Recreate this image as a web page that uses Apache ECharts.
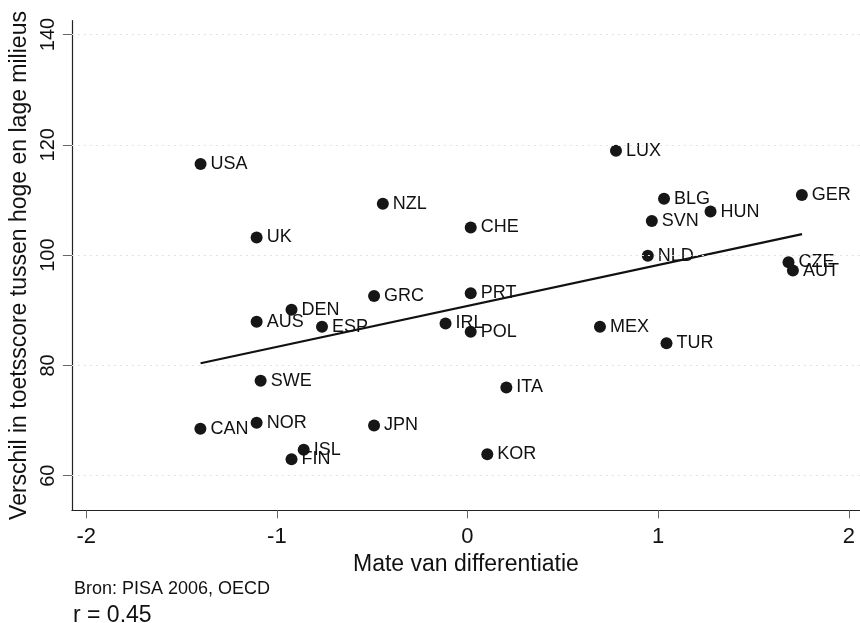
<!DOCTYPE html>
<html>
<head>
<meta charset="utf-8">
<script src="https://cdn.jsdelivr.net/npm/echarts@6/dist/echarts.min.js"></script>
<style>
html,body{margin:0;padding:0;background:#fff;}
#chart{width:860px;height:623px;}
</style>
</head>
<body>
<div id="chart"></div>
<script>
// Data
const countries = ['USA','NZL','UK','GRC','DEN','AUS','ESP','SWE','CAN','NOR','JPN','ISL','FIN',
  'LUX','BLG','GER','HUN','SVN','CHE','NLD','CZE','AUT','PRT','IRL','POL','MEX','TUR','ITA','KOR'];
const differentiation = [-1.40,-0.444,-1.106,-0.490,-0.923,-1.106,-0.763,-1.085,-1.401,-1.106,-0.490,-0.859,-0.923,
  0.779,1.031,1.754,1.275,0.967,0.017,0.946,1.684,1.707,0.017,-0.115,0.017,0.695,1.044,0.204,0.104];
const scoreGap = [116.5,109.3,103.2,92.6,90.1,87.9,87.0,77.2,68.5,69.6,69.1,64.7,63.0,
  118.9,110.2,110.9,107.9,106.2,105.0,99.9,98.7,97.2,93.1,87.6,86.1,87.0,84.0,76.0,63.9];
const fitX = [-1.40, 1.755];
const fitY = [80.4, 103.8];
const xTicks = [-2, -1, 0, 1, 2];
const yTicks = [60, 80, 100, 120, 140];
const xTitle = 'Mate van differentiatie';
const yTitle = 'Verschil in toetsscore tussen hoge en lage milieus';
const sourceNote = 'Bron: PISA 2006, OECD';
const corrNote = 'r = 0.45';

const FONT = '"Liberation Sans", Arial, Helvetica, sans-serif';
const INK = '#111111';

const pointData = countries.map((c, i) => ({ name: c, value: [differentiation[i], scoreGap[i]] }));
const fitData = fitX.map((x, i) => [x, fitY[i]]);

const chart = echarts.init(document.getElementById('chart'), null, { renderer: 'canvas' });
chart.setOption({
  animation: false,
  backgroundColor: '#ffffff',
  grid: { left: 69, right: 0, top: 20.7, bottom: 112.7, containLabel: false },
  xAxis: {
    type: 'value',
    min: -2.075, max: 2.059,
    name: xTitle,
    nameLocation: 'middle',
    nameGap: 37,
    nameTextStyle: { fontFamily: FONT, fontSize: 23, color: INK },
    axisLine: { show: true, onZero: false, lineStyle: { color: '#222', width: 1.2 } },
    axisTick: { show: true, inside: false, length: 8, customValues: xTicks, lineStyle: { color: '#666', width: 1 } },
    axisLabel: { show: true, customValues: xTicks, margin: 16, fontFamily: FONT, fontSize: 22, color: INK },
    splitLine: { show: false }
  },
  yAxis: {
    type: 'value',
    min: 53.73, max: 142.5,
    name: yTitle,
    nameLocation: 'middle',
    nameGap: 36,
    nameTextStyle: { fontFamily: FONT, fontSize: 23, color: INK },
    axisLine: { show: true, onZero: false, lineStyle: { color: '#222', width: 1.2 } },
    axisTick: { show: true, inside: false, length: 9, customValues: yTicks, lineStyle: { color: '#666', width: 1 } },
    axisLabel: { show: true, customValues: yTicks, rotate: 90, margin: 13, fontFamily: FONT, fontSize: 20, color: INK },
    splitLine: { show: false }
  },
  series: [
    {
      type: 'line',
      data: [],
      silent: true,
      markLine: {
        silent: true,
        symbol: ['none', 'none'],
        label: { show: false },
        lineStyle: { color: '#e2e2e2', type: [2, 4], width: 1, opacity: 1 },
        data: yTicks.map(v => ({ yAxis: v }))
      }
    },
    {
      type: 'line',
      data: fitData,
      showSymbol: false,
      symbol: 'none',
      silent: true,
      lineStyle: { color: '#111', width: 2.2, opacity: 1 },
      z: 3
    },
    {
      type: 'scatter',
      data: pointData,
      symbol: 'circle',
      symbolSize: 12,
      itemStyle: { color: '#161616', opacity: 1 },
      label: {
        show: true,
        position: 'right',
        distance: 4,
        formatter: '{b}',
        fontFamily: FONT,
        fontSize: 18,
        color: INK,
        opacity: 1
      },
      labelLayout: { hideOverlap: false },
      z: 4
    }
  ],
  graphic: [
    { type: 'text', left: 74, top: 580, style: { text: sourceNote, font: '18px ' + FONT, fill: INK } },
    { type: 'text', left: 73, top: 604, style: { text: corrNote, font: '23px ' + FONT, fill: INK } }
  ]
});
</script>
</body>
</html>
